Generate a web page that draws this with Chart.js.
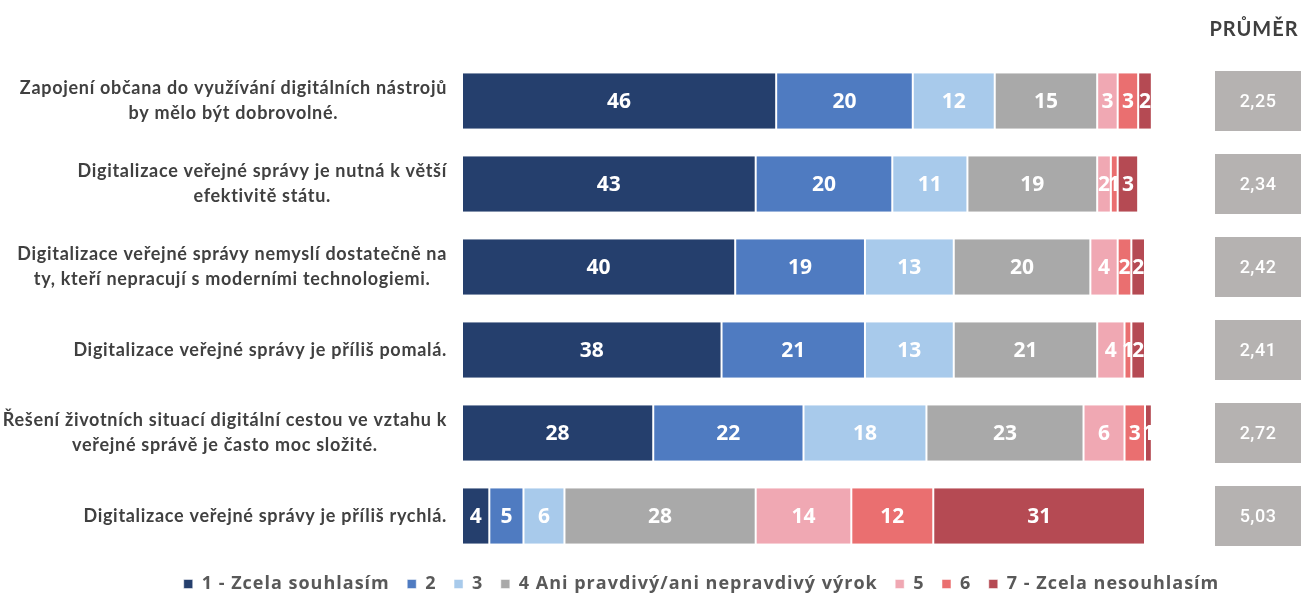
<!DOCTYPE html>
<html>
<head>
<meta charset="utf-8">
<script src="https://cdn.jsdelivr.net/npm/chart.js@4/dist/chart.umd.min.js"></script>
<style>
  html, body { margin: 0; padding: 0; background: #fff; }
</style>
</head>
<body>
<canvas id="chart" width="1305" height="596"></canvas>
<script>
// statements (each inner array = wrapped lines)
const statements = [
  ["Zapojení občana do využívání digitálních nástrojů", "by mělo být dobrovolné."],
  ["Digitalizace veřejné správy je nutná k větší", "efektivitě státu."],
  ["Digitalizace veřejné správy nemyslí dostatečně na", "ty, kteří nepracují s moderními technologiemi."],
  ["Digitalizace veřejné správy je příliš pomalá."],
  ["Řešení životních situací digitální cestou ve vztahu k", "veřejné správě je často moc složité."],
  ["Digitalizace veřejné správy je příliš rychlá."]
];

const seriesNames = [
  "1 - Zcela souhlasím", "2", "3", "4 Ani pravdivý/ani nepravdivý výrok",
  "5", "6", "7 - Zcela nesouhlasím"
];

const answer1 = [46, 43, 40, 38, 28, 4];
const answer2 = [20, 20, 19, 21, 22, 5];
const answer3 = [12, 11, 13, 13, 18, 6];
const answer4 = [15, 19, 20, 21, 23, 28];
const answer5 = [3, 2, 4, 4, 6, 14];
const answer6 = [3, 1, 2, 1, 3, 12];
const answer7 = [2, 3, 2, 2, 1, 31];

const averages = [2.25, 2.34, 2.42, 2.41, 2.72, 5.03];

const colors = ["#253f6d", "#4f7bc1", "#a8caeb", "#a9a9a9", "#f0a8b3", "#ea6f70", "#b54a53"];

const allSeries = [answer1, answer2, answer3, answer4, answer5, answer6, answer7];

const datasets = allSeries.map((vals, i) => ({
  label: seriesNames[i],
  data: vals,
  backgroundColor: colors[i],
  borderColor: "#ffffff",
  borderWidth: { left: 1, right: 1, top: 0, bottom: 0 },
  borderSkipped: false,
  categoryPercentage: 1,
  barPercentage: 0.67,
  clip: false
}));

// wider letter spacing for the legend text
const spacing = {
  id: "spacing",
  beforeLayout(chart) {
    chart.ctx.letterSpacing = "1px";
  }
};

// white numbers inside each segment
const segmentLabels = {
  id: "segmentLabels",
  afterDatasetsDraw(chart) {
    const ctx = chart.ctx;
    ctx.save();
    ctx.letterSpacing = "0px";
    ctx.fillStyle = "#ffffff";
    ctx.font = "bold 21px 'Open Sans'";
    ctx.textAlign = "center";
    ctx.textBaseline = "middle";
    chart.data.datasets.forEach((ds, di) => {
      const meta = chart.getDatasetMeta(di);
      meta.data.forEach((el, i) => {
        const p = el.getProps(["x", "base", "y"], true);
        ctx.fillText(String(ds.data[i]), (p.x + p.base) / 2, p.y + 1);
      });
    });
    ctx.restore();
  }
};

// statement texts on the left, lines centred inside a right-aligned block
const statementLabels = {
  id: "statementLabels",
  afterDraw(chart) {
    const ctx = chart.ctx;
    const y = chart.scales.y;
    ctx.save();
    ctx.letterSpacing = "0.7px";
    ctx.fillStyle = "#404040";
    ctx.font = "bold 18px Lato";
    ctx.textAlign = "center";
    ctx.textBaseline = "middle";
    const right = 447;
    const lh = 25;
    statements.forEach((lines, i) => {
      const cy = y.getPixelForValue(i);
      const w = Math.max(...lines.map(l => ctx.measureText(l).width));
      const cx = right - w / 2;
      lines.forEach((l, k) => {
        ctx.fillText(l, cx, cy + (k - (lines.length - 1) / 2) * lh);
      });
    });
    ctx.restore();
  }
};

// "PRŮMĚR" column
const averageBoxes = {
  id: "averageBoxes",
  afterDraw(chart) {
    const ctx = chart.ctx;
    const y = chart.scales.y;
    ctx.save();
    ctx.letterSpacing = "1px";
    ctx.fillStyle = "#3f3f3f";
    ctx.font = "bold 20px Lato";
    ctx.textAlign = "center";
    ctx.textBaseline = "middle";
    ctx.fillText("PRŮMĚR", 1254, 30);
    ctx.letterSpacing = "0.5px";
    averages.forEach((v, i) => {
      const cy = y.getPixelForValue(i);
      ctx.fillStyle = "#b5b2b1";
      ctx.fillRect(1215, cy - 30, 86, 60);
      ctx.fillStyle = "#ffffff";
      ctx.font = "500 18px Roboto";
      ctx.fillText(v.toFixed(2).replace(".", ","), 1258, cy + 1);
    });
    ctx.restore();
  }
};

const hiddenAxis = (position, width) => ({
  type: "category",
  position: position,
  display: true,
  stacked: true,
  grid: { display: false },
  border: { display: false },
  ticks: { display: false },
  afterFit(scale) { scale.width = width; }
});

new Chart(document.getElementById("chart"), {
  type: "bar",
  data: {
    labels: statements.map(s => s.join(" ")),
    datasets: datasets
  },
  options: {
    indexAxis: "y",
    responsive: false,
    animation: false,
    layout: { padding: { left: 98, right: 0, top: 59.5, bottom: -7 } },
    scales: {
      x: { stacked: true, min: 0, max: 100, display: false },
      y: hiddenAxis("left", 364),
      yRight: hiddenAxis("right", 160)
    },
    plugins: {
      legend: {
        position: "bottom",
        labels: {
          color: "#595959",
          font: { family: "Open Sans", size: 18, weight: "bold" },
          boxWidth: 9,
          boxHeight: 9,
          padding: 17.5
        }
      },
      tooltip: { enabled: false }
    }
  },
  plugins: [spacing, segmentLabels, statementLabels, averageBoxes]
});
</script>
</body>
</html>
